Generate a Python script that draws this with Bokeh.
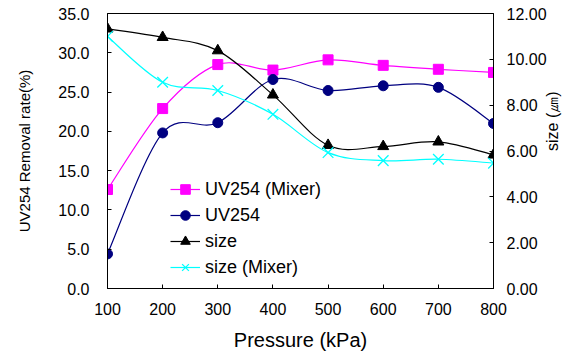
import math
import numpy as np
from bokeh.plotting import figure
from bokeh.models import Range1d, LinearAxis, FixedTicker, NumeralTickFormatter, Legend, LegendItem, ColumnDataSource
from bokeh.embed import file_html
from bokeh.resources import INLINE

pressure = [100, 200, 300, 400, 500, 600, 700, 800]
uv254_mixer = [12.6, 22.9, 28.5, 27.8, 29.1, 28.4, 27.9, 27.5]
uv254 = [4.4, 19.8, 21.1, 26.6, 25.2, 25.8, 25.6, 21.0]
size = [11.33, 10.96, 10.38, 8.45, 6.25, 6.20, 6.40, 5.83]
size_mixer = [11.0, 9.0, 8.64, 7.6, 5.93, 5.58, 5.64, 5.47]

FONT = "Liberation Sans"

p = figure(width=572, height=356, output_backend="svg", toolbar_location=None,
           x_range=Range1d(100, 800), y_range=Range1d(0, 35),
           min_border_left=107, min_border_right=78, min_border_top=13, min_border_bottom=68)
p.extra_y_ranges = {"size": Range1d(0, 12)}
p.xgrid.visible = False
p.ygrid.visible = False
p.outline_line_color = "black"
p.outline_line_width = 1
p.background_fill_color = "white"
p.border_fill_color = "white"

right = LinearAxis(y_range_name="size")
p.add_layout(right, "right")

for ax in [p.xaxis[0], p.yaxis[0], right]:
    ax.major_tick_in = 4
    ax.major_tick_out = 0
    ax.minor_tick_line_color = None
    ax.axis_line_color = "black"
    ax.major_tick_line_color = "black"
    ax.major_label_text_font = FONT
    ax.major_label_text_font_size = "16px"
    ax.major_label_text_color = "black"
    ax.axis_label_text_font = FONT
    ax.axis_label_text_font_style = "normal"
    ax.axis_label_text_color = "black"

p.xaxis[0].ticker = FixedTicker(ticks=pressure)
p.xaxis[0].axis_label = "Pressure (kPa)"
p.xaxis[0].axis_label_text_font_size = "20px"
p.xaxis[0].major_label_standoff = 14
p.xaxis[0].axis_label_standoff = 11

p.yaxis[0].ticker = FixedTicker(ticks=[0, 5, 10, 15, 20, 25, 30, 35])
p.yaxis[0].formatter = NumeralTickFormatter(format="0.0")
p.yaxis[0].axis_label = "UV254 Removal rate(%)"
p.yaxis[0].axis_label_text_font_size = "15px"
p.yaxis[0].major_label_standoff = 18
p.yaxis[0].axis_label_standoff = 22

right.ticker = FixedTicker(ticks=[0, 2, 4, 6, 8, 10, 12])
right.formatter = NumeralTickFormatter(format="0.00")
right.axis_label = "size (㎛)"
right.axis_label_text_font_size = "16px"
right.axis_label_orientation = math.pi / 2
right.major_label_standoff = 13
right.axis_label_standoff = 3


def smooth(xs, ys):
    x = np.asarray(xs, float)
    y = np.asarray(ys, float)
    xp = np.concatenate([[x[0]], x, [x[-1]]])
    yp = np.concatenate([[y[0]], y, [y[-1]]])
    n = len(x)
    d = dict(x0=[], y0=[], x1=[], y1=[], cx0=[], cy0=[], cx1=[], cy1=[])
    for i in range(n - 1):
        j = i + 1
        d["x0"].append(x[i]); d["y0"].append(y[i])
        d["x1"].append(x[i + 1]); d["y1"].append(y[i + 1])
        d["cx0"].append(x[i] + (xp[j + 1] - xp[j - 1]) / 6)
        d["cy0"].append(y[i] + (yp[j + 1] - yp[j - 1]) / 6)
        d["cx1"].append(x[i + 1] - (xp[j + 2] - xp[j]) / 6)
        d["cy1"].append(y[i + 1] - (yp[j + 2] - yp[j]) / 6)
    return ColumnDataSource(d)

series = [
    ("UV254 (Mixer)", uv254_mixer, "#FF00FF", "square", 10, "default"),
    ("UV254", uv254, "#000080", "circle", 10, "default"),
    ("size", size, "black", "triangle", 11, "size"),
    ("size (Mixer)", size_mixer, "#00FFFF", "x", 15, "size"),
]

items = []
for label, vals, color, marker, msize, rng in series:
    src = smooth(pressure, vals)
    kw = {} if rng == "default" else {"y_range_name": rng}
    b = p.bezier(x0="x0", y0="y0", x1="x1", y1="y1", cx0="cx0", cy0="cy0", cx1="cx1", cy1="cy1",
                 source=src, line_color=color, line_width=1.2, **kw)
    if marker == "x":
        s = p.scatter(pressure, vals, marker=marker, size=msize, line_color=color, line_width=1.3, **kw)
    else:
        s = p.scatter(pressure, vals, marker=marker, size=msize, fill_color=color, line_color=color, **kw)
    items.append(LegendItem(label=label, renderers=[b, s], index=0))

legend = Legend(items=items, location=(63, 9), padding=0, margin=0, spacing=2,
                glyph_width=30, glyph_height=24, label_height=20, label_standoff=5,
                label_text_font=FONT, label_text_font_size="18px", label_text_color="black",
                background_fill_alpha=0, border_line_color=None)
p.add_layout(legend, "center")

open("out.html", "w").write(file_html(p, INLINE))
